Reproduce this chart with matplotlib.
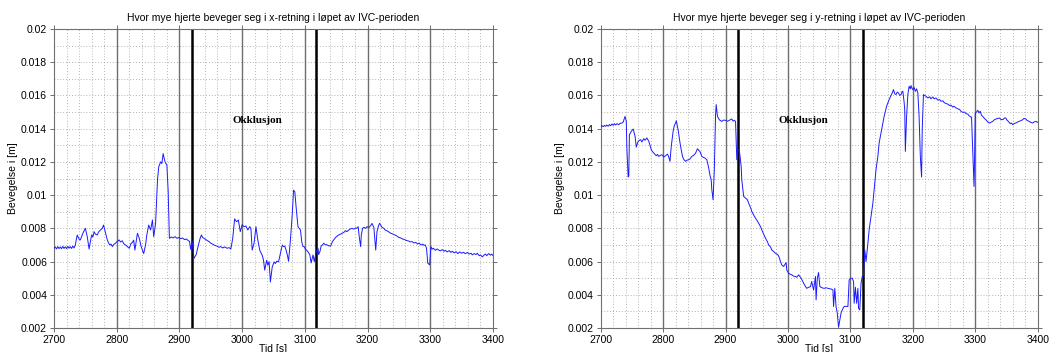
import matplotlib
matplotlib.use("Agg")
import matplotlib.pyplot as plt
from matplotlib.ticker import MultipleLocator, FormatStrFormatter

plt.rcParams['font.family'] = ['Liberation Sans', 'DejaVu Sans']

# Heart displacement in x-direction during the IVC period
tid_x = [2700, 2702, 2704, 2706, 2708, 2710, 2712, 2714, 2716, 2718, 2720, 2722, 2724, 2726, 2728, 2730,
         2732, 2734, 2737, 2740, 2742, 2746, 2750, 2753, 2756, 2758, 2760, 2762, 2764, 2766, 2769, 2771,
         2774, 2777, 2779, 2781, 2783, 2785, 2787, 2789, 2791, 2793, 2795, 2798, 2801, 2804, 2806, 2809,
         2811, 2814, 2817, 2820, 2823, 2825, 2827, 2829, 2831, 2833, 2836, 2839, 2841, 2843, 2846, 2848,
         2851, 2854, 2857, 2859, 2862, 2865, 2867, 2870, 2872, 2874, 2876, 2877, 2880, 2882, 2884, 2887,
         2890, 2893, 2896, 2899, 2902, 2905, 2908, 2911, 2914, 2916, 2918, 2920, 2921, 2923, 2925, 2927,
         2929, 2931, 2933, 2935, 2937, 2939, 2942, 2945, 2948, 2950, 2953, 2955, 2958, 2960, 2963, 2966,
         2969, 2972, 2976, 2979, 2982, 2985, 2988, 2991, 2994, 2997, 3000, 3003, 3006, 3009, 3012, 3014,
         3016, 3019, 3022, 3025, 3028, 3032, 3034, 3036, 3039, 3041, 3043, 3045, 3048, 3051, 3053, 3055,
         3058, 3061, 3064, 3066, 3068, 3070, 3072, 3074, 3077, 3080, 3082, 3084, 3086, 3089, 3091, 3093,
         3095, 3097, 3099, 3101, 3103, 3105, 3108, 3110, 3113, 3115, 3118, 3121, 3122, 3124, 3126, 3128,
         3130, 3133, 3135, 3138, 3141, 3144, 3146, 3149, 3152, 3154, 3157, 3159, 3162, 3165, 3167, 3170,
         3172, 3175, 3178, 3181, 3183, 3185, 3187, 3189, 3190, 3192, 3194, 3197, 3199, 3202, 3205, 3207,
         3210, 3213, 3215, 3217, 3219, 3221, 3223, 3226, 3228, 3231, 3234, 3237, 3239, 3242, 3245, 3248,
         3250, 3253, 3256, 3258, 3260, 3263, 3266, 3268, 3271, 3274, 3277, 3280, 3282, 3285, 3288, 3290,
         3292, 3294, 3296, 3299, 3301, 3303, 3305, 3308, 3311, 3313, 3316, 3319, 3322, 3324, 3327, 3330,
         3333, 3335, 3338, 3341, 3344, 3347, 3350, 3353, 3356, 3359, 3362, 3365, 3367, 3370, 3373, 3375,
         3378, 3380, 3383, 3386, 3388, 3390, 3393, 3396, 3398, 3400]
beveg_x = [0.00680, 0.00688, 0.00676, 0.00690, 0.00678, 0.00688, 0.00677, 0.00691, 0.00679, 0.00689,
           0.00678, 0.00692, 0.00680, 0.00690, 0.00679, 0.00693, 0.00682, 0.00700, 0.00760, 0.00735,
           0.00730, 0.00770, 0.00800, 0.00750, 0.00675, 0.00720, 0.00760, 0.00748, 0.00780, 0.00765,
           0.00760, 0.00778, 0.00790, 0.00800, 0.00820, 0.00790, 0.00760, 0.00730, 0.00712, 0.00700,
           0.00705, 0.00690, 0.00702, 0.00710, 0.00722, 0.00730, 0.00718, 0.00725, 0.00708, 0.00700,
           0.00690, 0.00680, 0.00710, 0.00715, 0.00729, 0.00669, 0.00720, 0.00770, 0.00740, 0.00690,
           0.00668, 0.00648, 0.00700, 0.00760, 0.00820, 0.00790, 0.00850, 0.00750, 0.00830, 0.01090,
           0.01170, 0.01200, 0.01190, 0.01250, 0.01215, 0.01200, 0.01180, 0.01030, 0.00740, 0.00748,
           0.00742, 0.00750, 0.00740, 0.00745, 0.00738, 0.00742, 0.00732, 0.00736, 0.00726, 0.00722,
           0.00673, 0.00725, 0.00700, 0.00618, 0.00632, 0.00645, 0.00680, 0.00710, 0.00740, 0.00760,
           0.00745, 0.00740, 0.00732, 0.00725, 0.00718, 0.00710, 0.00705, 0.00700, 0.00695, 0.00693,
           0.00686, 0.00690, 0.00682, 0.00688, 0.00680, 0.00684, 0.00676, 0.00740, 0.00857, 0.00840,
           0.00850, 0.00780, 0.00822, 0.00810, 0.00814, 0.00790, 0.00810, 0.00800, 0.00669, 0.00710,
           0.00810, 0.00730, 0.00669, 0.00638, 0.00610, 0.00548, 0.00608, 0.00578, 0.00600, 0.00477,
           0.00568, 0.00598, 0.00588, 0.00602, 0.00598, 0.00650, 0.00700, 0.00690, 0.00693, 0.00670,
           0.00640, 0.00602, 0.00730, 0.00890, 0.01030, 0.01020, 0.00930, 0.00810, 0.00800, 0.00790,
           0.00720, 0.00690, 0.00690, 0.00673, 0.00668, 0.00659, 0.00640, 0.00592, 0.00640, 0.00600,
           0.00659, 0.00680, 0.00642, 0.00660, 0.00693, 0.00700, 0.00710, 0.00700, 0.00702, 0.00695,
           0.00693, 0.00720, 0.00730, 0.00745, 0.00755, 0.00760, 0.00765, 0.00770, 0.00775, 0.00786,
           0.00780, 0.00790, 0.00795, 0.00800, 0.00795, 0.00803, 0.00800, 0.00810, 0.00740, 0.00690,
           0.00760, 0.00800, 0.00806, 0.00800, 0.00810, 0.00805, 0.00816, 0.00830, 0.00806, 0.00669,
           0.00780, 0.00810, 0.00830, 0.00820, 0.00806, 0.00800, 0.00790, 0.00785, 0.00778, 0.00770,
           0.00768, 0.00762, 0.00758, 0.00750, 0.00745, 0.00742, 0.00735, 0.00734, 0.00730, 0.00726,
           0.00723, 0.00718, 0.00720, 0.00712, 0.00715, 0.00705, 0.00712, 0.00700, 0.00705, 0.00697,
           0.00700, 0.00680, 0.00590, 0.00580, 0.00690, 0.00675, 0.00680, 0.00668, 0.00676, 0.00670,
           0.00664, 0.00672, 0.00662, 0.00668, 0.00658, 0.00666, 0.00655, 0.00662, 0.00652, 0.00660,
           0.00648, 0.00658, 0.00650, 0.00656, 0.00647, 0.00655, 0.00645, 0.00650, 0.00640, 0.00648,
           0.00642, 0.00650, 0.00635, 0.00640, 0.00628, 0.00640, 0.00645, 0.00635, 0.00648, 0.00638,
           0.00645, 0.00636]

# Heart displacement in y-direction during the IVC period
tid_y = [2700, 2702, 2704, 2706, 2708, 2710, 2712, 2714, 2716, 2718, 2720, 2722, 2724, 2726, 2729, 2731,
         2734, 2736, 2739, 2741, 2742, 2744, 2745, 2746, 2749, 2752, 2755, 2757, 2760, 2762, 2764, 2766,
         2769, 2771, 2774, 2777, 2779, 2781, 2783, 2785, 2787, 2789, 2791, 2793, 2796, 2798, 2801, 2804,
         2807, 2809, 2811, 2813, 2816, 2818, 2820, 2821, 2824, 2826, 2828, 2831, 2833, 2836, 2838, 2841,
         2843, 2846, 2849, 2852, 2855, 2857, 2859, 2862, 2864, 2867, 2870, 2873, 2875, 2877, 2878, 2880,
         2882, 2883, 2884, 2885, 2887, 2889, 2890, 2892, 2894, 2897, 2900, 2903, 2905, 2908, 2910, 2912,
         2914, 2916, 2918, 2920, 2922, 2925, 2926, 2929, 2932, 2935, 2938, 2940, 2942, 2945, 2948, 2950,
         2953, 2956, 2958, 2961, 2964, 2967, 2969, 2972, 2974, 2977, 2980, 2982, 2984, 2986, 2988, 2990,
         2993, 2995, 2997, 2998, 3001, 3003, 3006, 3009, 3012, 3014, 3017, 3019, 3021, 3023, 3025, 3028,
         3030, 3033, 3036, 3038, 3041, 3044, 3045, 3047, 3049, 3051, 3053, 3056, 3058, 3061, 3064, 3067,
         3069, 3072, 3073, 3075, 3077, 3079, 3081, 3083, 3085, 3087, 3089, 3090, 3093, 3096, 3098, 3101,
         3103, 3105, 3106, 3108, 3110, 3112, 3113, 3115, 3117, 3119, 3121, 3123, 3125, 3128, 3130, 3133,
         3136, 3138, 3141, 3144, 3146, 3151, 3154, 3158, 3162, 3165, 3167, 3169, 3171, 3173, 3175, 3177,
         3179, 3181, 3183, 3184, 3186, 3187, 3188, 3190, 3192, 3194, 3196, 3197, 3199, 3200, 3202, 3204,
         3206, 3208, 3210, 3212, 3214, 3215, 3217, 3219, 3221, 3224, 3227, 3229, 3232, 3234, 3237, 3240,
         3243, 3245, 3248, 3250, 3253, 3256, 3259, 3261, 3264, 3266, 3269, 3272, 3275, 3277, 3280, 3283,
         3285, 3288, 3290, 3293, 3294, 3296, 3298, 3299, 3300, 3302, 3304, 3306, 3308, 3310, 3312, 3315,
         3317, 3320, 3323, 3326, 3328, 3331, 3333, 3336, 3339, 3341, 3344, 3347, 3349, 3351, 3353, 3356,
         3358, 3360, 3363, 3365, 3368, 3370, 3373, 3376, 3378, 3381, 3383, 3386, 3389, 3392, 3394, 3397,
         3400]
beveg_y = [0.01410, 0.01418, 0.01412, 0.01420, 0.01414, 0.01422, 0.01415, 0.01425, 0.01418, 0.01428,
           0.01420, 0.01430, 0.01422, 0.01430, 0.01424, 0.01432, 0.01434, 0.01440, 0.01474, 0.01444,
           0.01273, 0.01109, 0.01113, 0.01364, 0.01384, 0.01398, 0.01354, 0.01289, 0.01324, 0.01330,
           0.01334, 0.01320, 0.01340, 0.01330, 0.01344, 0.01324, 0.01300, 0.01273, 0.01262, 0.01253,
           0.01245, 0.01237, 0.01245, 0.01233, 0.01240, 0.01243, 0.01230, 0.01237, 0.01247, 0.01230,
           0.01203, 0.01293, 0.01384, 0.01420, 0.01434, 0.01448, 0.01394, 0.01340, 0.01293, 0.01233,
           0.01215, 0.01203, 0.01210, 0.01213, 0.01218, 0.01233, 0.01240, 0.01253, 0.01279, 0.01270,
           0.01263, 0.01233, 0.01228, 0.01223, 0.01213, 0.01163, 0.01120, 0.01092, 0.01032, 0.00972,
           0.01153, 0.01314, 0.01484, 0.01545, 0.01474, 0.01460, 0.01454, 0.01448, 0.01444, 0.01452,
           0.01450, 0.01445, 0.01448, 0.01455, 0.01458, 0.01446, 0.01450, 0.01444, 0.01213, 0.01273,
           0.01273, 0.01173, 0.01092, 0.00992, 0.00982, 0.00972, 0.00942, 0.00925, 0.00902, 0.00880,
           0.00861, 0.00850, 0.00831, 0.00810, 0.00791, 0.00765, 0.00741, 0.00720, 0.00700, 0.00688,
           0.00670, 0.00660, 0.00650, 0.00645, 0.00640, 0.00625, 0.00600, 0.00580, 0.00570, 0.00582,
           0.00594, 0.00550, 0.00530, 0.00525, 0.00520, 0.00512, 0.00510, 0.00505, 0.00520, 0.00510,
           0.00500, 0.00485, 0.00470, 0.00450, 0.00439, 0.00445, 0.00449, 0.00480, 0.00429, 0.00510,
           0.00369, 0.00500, 0.00534, 0.00450, 0.00445, 0.00440, 0.00439, 0.00442, 0.00439, 0.00436,
           0.00435, 0.00429, 0.00329, 0.00439, 0.00329, 0.00289, 0.00204, 0.00248, 0.00290, 0.00309,
           0.00325, 0.00329, 0.00331, 0.00329, 0.00490, 0.00500, 0.00500, 0.00480, 0.00349, 0.00445,
           0.00349, 0.00439, 0.00319, 0.00309, 0.00470, 0.00510, 0.00520, 0.00670, 0.00600, 0.00710,
           0.00791, 0.00871, 0.00952, 0.01032, 0.01153, 0.01233, 0.01314, 0.01414, 0.01474, 0.01535,
           0.01575, 0.01600, 0.01615, 0.01635, 0.01610, 0.01605, 0.01620, 0.01615, 0.01600, 0.01605,
           0.01625, 0.01625, 0.01560, 0.01515, 0.01263, 0.01474, 0.01605, 0.01655, 0.01640, 0.01660,
           0.01640, 0.01635, 0.01648, 0.01625, 0.01640, 0.01615, 0.01474, 0.01233, 0.01109, 0.01394,
           0.01605, 0.01600, 0.01595, 0.01585, 0.01592, 0.01580, 0.01591, 0.01580, 0.01585, 0.01572,
           0.01575, 0.01565, 0.01568, 0.01558, 0.01551, 0.01548, 0.01539, 0.01542, 0.01530, 0.01535,
           0.01525, 0.01520, 0.01515, 0.01505, 0.01498, 0.01500, 0.01490, 0.01488, 0.01478, 0.01470,
           0.01470, 0.01263, 0.01052, 0.01243, 0.01494, 0.01500, 0.01511, 0.01495, 0.01505, 0.01480,
           0.01474, 0.01460, 0.01454, 0.01440, 0.01434, 0.01440, 0.01444, 0.01455, 0.01458, 0.01462,
           0.01464, 0.01455, 0.01454, 0.01465, 0.01464, 0.01450, 0.01444, 0.01430, 0.01434, 0.01424,
           0.01432, 0.01434, 0.01440, 0.01444, 0.01448, 0.01454, 0.01462, 0.01458, 0.01450, 0.01444,
           0.01438, 0.01434, 0.01440, 0.01444, 0.01438]

# Event markers (thin gray) and start/end of the occlusion (thick black)
hendelser = [2800, 2900, 3000, 3100, 3200, 3300]
okklusjon_x = [2920, 3117]
okklusjon_y = [2920, 3120]

titler = ["Hvor mye hjerte beveger seg i x-retning i løpet av IVC-perioden",
          "Hvor mye hjerte beveger seg i y-retning i løpet av IVC-perioden"]

fig = plt.figure(figsize=(10.49, 3.52), dpi=100)
ax1 = fig.add_axes([54 / 1049, 24 / 352, 439 / 1049, 299 / 352])
ax2 = fig.add_axes([600.7 / 1049, 24 / 352, 437 / 1049, 299 / 352])

for ax, t, v, okk, tittel in [(ax1, tid_x, beveg_x, okklusjon_x, titler[0]),
                              (ax2, tid_y, beveg_y, okklusjon_y, titler[1])]:
    ax.set_xlim(2700, 3400)
    ax.set_ylim(0.002, 0.02)
    ax.xaxis.set_major_locator(MultipleLocator(100))
    ax.xaxis.set_minor_locator(MultipleLocator(20))
    ax.yaxis.set_major_locator(MultipleLocator(0.002))
    ax.yaxis.set_minor_locator(MultipleLocator(0.001))
    ax.yaxis.set_major_formatter(FormatStrFormatter('%g'))
    ax.grid(which='both', linestyle=(0, (1, 2.5)), color='#9a9a9a', linewidth=0.6)
    ax.set_axisbelow(True)
    for h in hendelser:
        ax.axvline(h, color='#6e6e6e', linewidth=1.0, zorder=2)
    for o in okk:
        ax.axvline(o, color='black', linewidth=1.8, zorder=2)
    ax.plot(t, v, color='#1a1aff', linewidth=0.7, zorder=3)
    ax.text(3025, 0.0145, "Okklusjon", family=['Liberation Serif', 'DejaVu Serif'],
            fontweight='bold', fontsize=8, ha='center', va='center')
    ax.set_title(tittel, fontsize=7.5, pad=6)
    ax.set_xlabel("Tid [s]", fontsize=7.5, labelpad=-1)
    ax.set_ylabel("Bevegelse i [m]", fontsize=7.5, labelpad=2)
    ax.tick_params(which='major', direction='out', length=3, width=0.6, labelsize=7.5,
                   top=True, right=True, color='#555555', pad=2)
    ax.tick_params(which='minor', length=0, top=True, right=True)
    for s in ax.spines.values():
        s.set_color('#707070')
        s.set_linewidth(0.8)

fig.savefig("out.png", dpi=100)
